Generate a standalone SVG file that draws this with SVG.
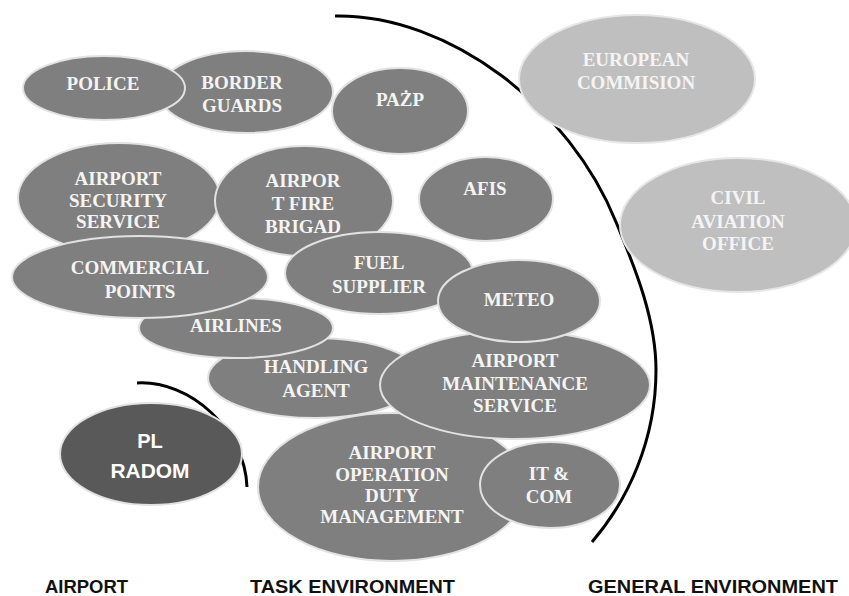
<svg xmlns="http://www.w3.org/2000/svg" width="849" height="596" viewBox="0 0 849 596">
  <style>
    .n ellipse { fill: #7f7f7f; stroke: #e2e2e2; stroke-width: 2; }
    .g ellipse { fill: #bfbfbf; stroke: #e6e6e6; stroke-width: 2; }
    .d ellipse { fill: #595959; stroke: #e2e2e2; stroke-width: 2; }
    .n text, .g text { font-family: "Liberation Serif", "Times New Roman", serif; font-weight: bold; font-size: 19px; fill: #f4f4f4; text-anchor: middle; }
    .d text { font-family: "Liberation Sans", Arial, sans-serif; font-weight: bold; font-size: 20px; fill: #ffffff; text-anchor: middle; }
    .arc { fill: none; stroke: #000; stroke-width: 3; stroke-linecap: butt; }
    .lbl { font-family: "Liberation Sans", Arial, sans-serif; font-weight: bold; font-size: 19px; fill: #111; }
  </style>

  <!-- environment boundaries -->
  <g id="connectors">
    <path class="arc" d="M335,16 C450,14 570,108 616,222 C636,270 656,320 656,370 C656,440 628,500 592,542"/>
    <path class="arc" d="M137,383 C190,380 245,430 247,487"/>
  </g>

  <g id="border-guards" class="n">
    <ellipse cx="246" cy="92" rx="87" ry="41"/>
    <text x="242" y="89">BORDER</text>
    <text x="242" y="112">GUARDS</text>
  </g>
  <g id="police" class="n">
    <ellipse cx="104" cy="88" rx="81" ry="32"/>
    <text x="103" y="90">POLICE</text>
  </g>
  <g id="pazp" class="n">
    <ellipse cx="400" cy="111" rx="68" ry="43"/>
    <text x="400" y="106">PAŻP</text>
  </g>
  <g id="airport-security" class="n">
    <ellipse cx="119" cy="198" rx="101" ry="55"/>
    <text x="118" y="185">AIRPORT</text>
    <text x="118" y="207">SECURITY</text>
    <text x="118" y="228">SERVICE</text>
  </g>
  <g id="fire-brigade" class="n">
    <ellipse cx="304" cy="201" rx="89" ry="55"/>
    <text x="303" y="187">AIRPOR</text>
    <text x="303" y="210">T FIRE</text>
    <text x="303" y="233">BRIGAD</text>
  </g>
  <g id="afis" class="n">
    <ellipse cx="486" cy="199" rx="67" ry="42"/>
    <text x="485" y="195">AFIS</text>
  </g>
  <g id="operation-duty" class="n">
    <ellipse cx="392" cy="487" rx="134" ry="74"/>
    <text x="392" y="459">AIRPORT</text>
    <text x="392" y="481">OPERATION</text>
    <text x="392" y="502">DUTY</text>
    <text x="392" y="523">MANAGEMENT</text>
  </g>
  <g id="handling-agent" class="n">
    <ellipse cx="315" cy="378" rx="107" ry="40"/>
    <text x="316" y="373">HANDLING</text>
    <text x="316" y="397">AGENT</text>
  </g>
  <g id="airlines" class="n">
    <ellipse cx="236" cy="328" rx="97" ry="30"/>
    <text x="236" y="332">AIRLINES</text>
  </g>
  <g id="commercial-points" class="n">
    <ellipse cx="140" cy="277" rx="128" ry="41"/>
    <text x="140" y="274">COMMERCIAL</text>
    <text x="140" y="298">POINTS</text>
  </g>
  <g id="fuel-supplier" class="n">
    <ellipse cx="379" cy="273" rx="94" ry="41"/>
    <text x="379" y="269">FUEL</text>
    <text x="379" y="293">SUPPLIER</text>
  </g>
  <g id="maintenance" class="n">
    <ellipse cx="515" cy="385" rx="135" ry="54"/>
    <text x="515" y="367">AIRPORT</text>
    <text x="515" y="390">MAINTENANCE</text>
    <text x="515" y="412">SERVICE</text>
  </g>
  <g id="meteo" class="n">
    <ellipse cx="519" cy="301" rx="81" ry="41"/>
    <text x="519" y="306">METEO</text>
  </g>
  <g id="it-com" class="n">
    <ellipse cx="550" cy="485" rx="70" ry="43"/>
    <text x="549" y="480">IT &amp;</text>
    <text x="549" y="503">COM</text>
  </g>
  <g id="pl-radom" class="d">
    <ellipse cx="151" cy="454" rx="91" ry="51"/>
    <text x="150" y="448">PL</text>
    <text x="150" y="478" textLength="79" lengthAdjust="spacingAndGlyphs">RADOM</text>
  </g>
  <g id="european-commision" class="g">
    <ellipse cx="637" cy="79" rx="118" ry="64"/>
    <text x="636" y="66">EUROPEAN</text>
    <text x="636" y="89">COMMISION</text>
  </g>
  <g id="civil-aviation-office" class="g">
    <ellipse cx="738" cy="225" rx="118" ry="67"/>
    <text x="738" y="204">CIVIL</text>
    <text x="738" y="228">AVIATION</text>
    <text x="738" y="250">OFFICE</text>
  </g>

  <g id="labels">
    <text class="lbl" x="45" y="593" textLength="83" lengthAdjust="spacingAndGlyphs">AIRPORT</text>
    <text class="lbl" x="250" y="593" textLength="205" lengthAdjust="spacingAndGlyphs">TASK ENVIRONMENT</text>
    <text class="lbl" x="588" y="593" textLength="250" lengthAdjust="spacingAndGlyphs">GENERAL ENVIRONMENT</text>
  </g>
</svg>
